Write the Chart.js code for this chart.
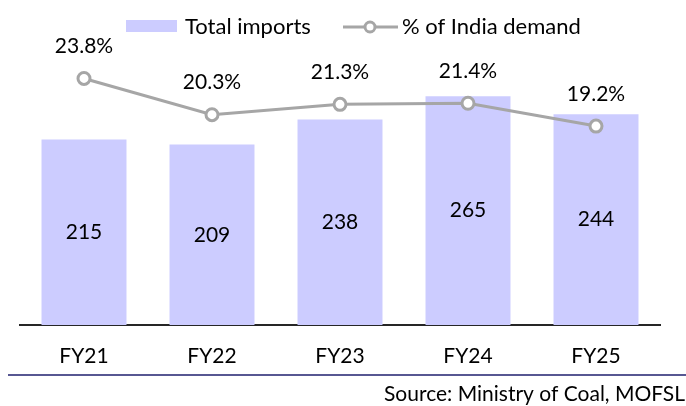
<!DOCTYPE html>
<html>
<head>
<meta charset="utf-8">
<script src="https://cdn.jsdelivr.net/npm/chart.js@4/dist/chart.umd.min.js"></script>
<style>
  html, body { margin: 0; padding: 0; background: #fff; }
  #wrap { width: 686px; height: 406px; }
</style>
</head>
<body>
<div id="wrap"><canvas id="importsChart" width="686" height="406"></canvas></div>
<script>
const years = ['FY21', 'FY22', 'FY23', 'FY24', 'FY25'];
const totalImports = [215, 209, 238, 265, 244];
const shareOfDemand = [23.8, 20.3, 21.3, 21.4, 19.2];
const legendLabels = ['Total imports', '% of India demand'];
const sourceNote = 'Source: Ministry of Coal, MOFSL';

const FONT = 'Lato, "Open Sans", sans-serif';
const BAR_COLOR = '#ccccff';
const LINE_COLOR = '#a6a6a6';

// value labels, legend and source note
const decorations = {
    id: 'decorations',
    afterDatasetsDraw(chart) {
        const ctx = chart.ctx;
        ctx.save();
        ctx.fillStyle = '#000';
        ctx.font = '21px ' + FONT;
        ctx.textAlign = 'center';
        ctx.textBaseline = 'middle';

        // dataset 1 = bars: values in the middle of each bar
        chart.getDatasetMeta(1).data.forEach((bar, i) => {
            ctx.fillText(totalImports[i], bar.x, (bar.y + bar.base) / 2);
        });

        // dataset 0 = line: values above each point
        chart.getDatasetMeta(0).data.forEach((pt, i) => {
            ctx.fillText(shareOfDemand[i].toFixed(1) + '%', pt.x, pt.y - 32);
        });
        ctx.restore();
    },
    afterDraw(chart) {
        const ctx = chart.ctx;
        ctx.save();

        // legend
        ctx.fillStyle = BAR_COLOR;
        ctx.fillRect(126, 20, 51, 12);
        ctx.fillStyle = '#000';
        ctx.font = '22px ' + FONT;
        ctx.textAlign = 'left';
        ctx.textBaseline = 'middle';
        ctx.fillText(legendLabels[0], 185, 27);

        ctx.strokeStyle = LINE_COLOR;
        ctx.lineWidth = 3;
        ctx.beginPath();
        ctx.moveTo(343, 27);
        ctx.lineTo(398, 27);
        ctx.stroke();
        ctx.beginPath();
        ctx.arc(370, 27, 5, 0, Math.PI * 2);
        ctx.fillStyle = '#fff';
        ctx.fill();
        ctx.stroke();
        ctx.fillStyle = '#000';
        ctx.fillText(legendLabels[1], 402, 27);

        // separator and source
        ctx.strokeStyle = '#1f1f6e';
        ctx.lineWidth = 1.5;
        ctx.beginPath();
        ctx.moveTo(8, 375);
        ctx.lineTo(686, 375);
        ctx.stroke();

        ctx.font = '21px ' + FONT;
        ctx.textAlign = 'right';
        ctx.textBaseline = 'alphabetic';
        ctx.fillText(sourceNote, 685, 401);
        ctx.restore();
    }
};

const ctx = document.getElementById('importsChart').getContext('2d');
window.importsChart = new Chart(ctx, {
    type: 'bar',
    data: {
        labels: years,
        datasets: [{
            type: 'line',
            label: legendLabels[1],
            data: shareOfDemand,
            yAxisID: 'y1',
            borderColor: LINE_COLOR,
            borderWidth: 3,
            pointRadius: 6,
            pointBorderWidth: 3,
            pointBackgroundColor: '#fff',
            pointBorderColor: LINE_COLOR,
            tension: 0,
            order: 1
        }, {
            type: 'bar',
            label: legendLabels[0],
            data: totalImports,
            yAxisID: 'y',
            backgroundColor: BAR_COLOR,
            borderWidth: 0,
            categoryPercentage: 1,
            barPercentage: 0.664,
            order: 2
        }]
    },
    options: {
        responsive: false,
        animation: false,
        layout: {
            padding: { top: 66, left: 20, right: 26, bottom: 0 }
        },
        plugins: {
            legend: { display: false },
            tooltip: { enabled: false }
        },
        scales: {
            x: {
                grid: { display: false, drawTicks: false },
                border: { display: true, color: '#262626', width: 2 },
                ticks: {
                    color: '#000',
                    padding: 19,
                    font: { family: FONT, size: 21 }
                },
                afterFit: function(scale) {
                    scale.height = 81;
                }
            },
            y: {
                display: false,
                min: 0,
                max: 300
            },
            y1: {
                display: false,
                min: 0,
                max: 25
            }
        }
    },
    plugins: [decorations]
});
</script>
</body>
</html>
